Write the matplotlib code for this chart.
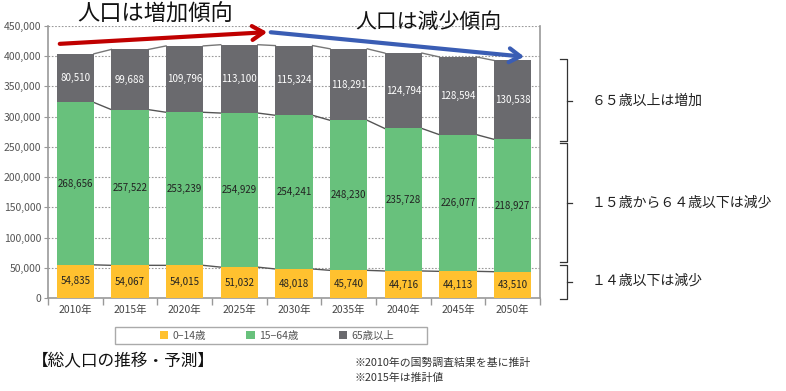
import matplotlib
matplotlib.use("Agg")
import matplotlib.pyplot as plt
import numpy as np
from matplotlib.patches import Patch, Rectangle
from matplotlib.lines import Line2D

plt.rcParams['font.family'] = ['Noto Sans CJK JP', 'DejaVu Sans']

years = ["2010年", "2015年", "2020年", "2025年", "2030年", "2035年", "2040年", "2045年", "2050年"]
age_0_14 = [54835, 54067, 54015, 51032, 48018, 45740, 44716, 44113, 43510]
age_15_64 = [268656, 257522, 253239, 254929, 254241, 248230, 235728, 226077, 218927]
age_65 = [80510, 99688, 109796, 113100, 115324, 118291, 124794, 128594, 130538]
series_names = ["0−14歳", "15−64歳", "65歳以上"]
colors = ["#FFC12F", "#68C17C", "#6A6A6E"]
label_colors = ["#222222", "#222222", "white"]
yticks = list(range(0, 450001, 50000))

W, H = 786, 391
fig = plt.figure(figsize=(W / 100, H / 100), dpi=100)
ax = fig.add_axes([48 / W, 1 - 298 / H, (540 - 48) / W, (298 - 26) / H])

x = np.arange(len(years))
bw = 0.68
bottom = np.zeros(len(years))
series = [age_0_14, age_15_64, age_65]
for vals, col, lc in zip(series, colors, label_colors):
    vals = np.array(vals, dtype=float)
    ax.bar(x, vals, bw, bottom=bottom, color=col, zorder=3)
    for xi, b, v in zip(x, bottom, vals):
        ax.text(xi, b + v / 2, f"{int(v):,}", ha='center', va='center', fontsize=7,
                color=lc, zorder=5)
    bottom = bottom + vals
    # series connector lines
    for i in range(len(years) - 1):
        ax.plot([x[i] + bw / 2, x[i + 1] - bw / 2], [bottom[i], bottom[i + 1]],
                color="#555555" if col != colors[2] else "#777777", lw=1, zorder=2)

ax.set_xlim(-0.5, len(years) - 0.5)
ax.set_ylim(0, 450000)
ax.set_yticks(yticks)
ax.set_yticklabels([f"{v:,}" for v in yticks], fontsize=7.5, color="#555555")
ax.set_xticks(x)
ax.set_xticklabels(years, fontsize=7.5, color="#444444")
ax.set_xticks(np.arange(-0.5, len(years), 1), minor=True)
ax.tick_params(axis='x', which='major', length=0, pad=5)
ax.tick_params(axis='x', which='minor', length=5, color="#999999", width=1)
ax.tick_params(axis='y', length=3, color="#999999", pad=2)
ax.grid(axis='y', linestyle=(0, (1.5, 1.5)), color="#999999", lw=0.8, zorder=0)
for s in ['left', 'bottom', 'right']:
    ax.spines[s].set_color("#999999")
    ax.spines[s].set_linewidth(1.2)
ax.spines['top'].set_visible(False)


def fx(px):
    return px / W


def fy(py):
    return 1 - py / H


# trend arrows
fig.add_artist(matplotlib.patches.FancyArrowPatch((fx(57), fy(44)), (fx(270), fy(32)),
               transform=fig.transFigure, arrowstyle='->,head_length=8,head_width=5',
               color="#C00000", lw=3, mutation_scale=1))
fig.add_artist(matplotlib.patches.FancyArrowPatch((fx(268), fy(32)), (fx(527), fy(57)),
               transform=fig.transFigure, arrowstyle='->,head_length=8,head_width=5',
               color="#3A5DB4", lw=3, mutation_scale=1))
fig.text(fx(155), fy(14), "人口は増加傾向", fontsize=16, ha='center', va='center', color="#111111")
fig.text(fx(428), fy(22), "人口は減少傾向", fontsize=15, ha='center', va='center', color="#111111")

# brackets
def bracket(top, bot, mid):
    xv = 567
    fig.add_artist(Line2D([fx(560), fx(xv), fx(xv), fx(560)], [fy(top), fy(top), fy(bot), fy(bot)],
                          color="#333333", lw=0.9))
    fig.add_artist(Line2D([fx(xv), fx(572)], [fy(mid), fy(mid)], color="#333333", lw=0.9))

bracket(59, 141, 101)
bracket(143, 262, 203)
bracket(265, 299, 282)
fig.text(fx(592), fy(101), "６５歳以上は増加", fontsize=10, va='center', color="#222222")
fig.text(fx(592), fy(203), "１５歳から６４歳以下は減少", fontsize=10, va='center', color="#222222")
fig.text(fx(592), fy(281), "１４歳以下は減少", fontsize=10, va='center', color="#222222")

# legend
fig.add_artist(Rectangle((fx(115), fy(344)), fx(427) - fx(115), fy(327) - fy(344),
                         transform=fig.transFigure, facecolor='white', edgecolor="#AAAAAA", lw=1))
handles = [Patch(facecolor=c, edgecolor='none') for c in colors]
leg = fig.legend(handles, series_names, loc='center', bbox_to_anchor=(fx(277), fy(336)),
                 ncol=3, fontsize=7.5, frameon=False,
                 handlelength=0.8, handleheight=0.8, handletextpad=0.4, columnspacing=3.9,
                 borderpad=0.2, borderaxespad=0)
for t in leg.get_texts():
    t.set_color("#555555")

fig.text(fx(32), fy(362), "【総人口の推移・予測】", fontsize=12, va='center', color="#111111")
fig.text(fx(355), fy(363), "※2010年の国勢調査結果を基に推計", fontsize=7.8, va='center', color="#333333")
fig.text(fx(355), fy(378), "※2015年は推計値", fontsize=7.8, va='center', color="#333333")

fig.savefig("out.png", dpi=100, facecolor="white")
